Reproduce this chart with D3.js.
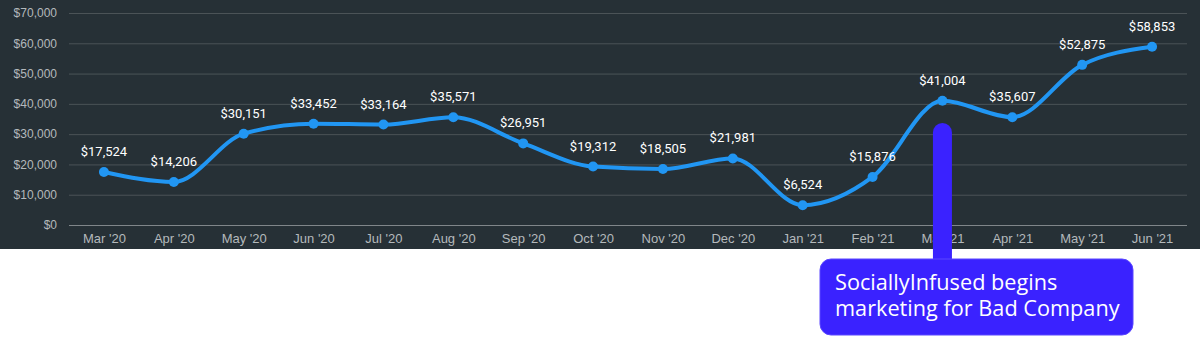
<!DOCTYPE html>
<html>
<head>
<meta charset="utf-8">
<script src="https://cdn.jsdelivr.net/npm/d3@7"></script>
<style>
  body { margin: 0; background: #fff; }
  svg { display: block; font-family: Roboto, sans-serif; }
</style>
</head>
<body>
<svg width="1200" height="362"></svg>
<script>
const months = ["Mar '20", "Apr '20", "May '20", "Jun '20", "Jul '20", "Aug '20", "Sep '20", "Oct '20",
                "Nov '20", "Dec '20", "Jan '21", "Feb '21", "Mar '21", "Apr '21", "May '21", "Jun '21"];
const revenue = [17524, 14206, 30151, 33452, 33164, 35571, 26951, 19312,
                 18505, 21981, 6524, 15876, 41004, 35607, 52875, 58853];
const yTicks = [0, 10000, 20000, 30000, 40000, 50000, 60000, 70000];
const noteMonth = "Mar '21";
const noteLines = ["SociallyInfused begins", "marketing for Bad Company"];

const svg = d3.select('svg');
const width = +svg.attr('width');

const margin = { top: 13, left: 69, right: 13 };
const plotBottom = 225;

svg.append('rect')
    .attr('width', width)
    .attr('height', 249)
    .attr('fill', '#263036');

const xScale = d3.scalePoint()
    .domain(months)
    .range([margin.left, width - margin.right])
    .padding(0.5);

const yScale = d3.scaleLinear()
    .domain([0, 70000])
    .range([plotBottom, margin.top]);

const money = d => '$' + d3.format(',')(d);

// grid + y labels
const yAxis = d3.axisLeft(yScale)
    .tickValues(yTicks)
    .tickFormat(money)
    .tickSize(-(width - margin.left - margin.right))
    .tickPadding(12);
const yAxisGroup = svg.append('g')
    .attr('transform', `translate(${margin.left},0)`)
    .call(yAxis);
yAxisGroup.select('.domain').remove();
yAxisGroup.selectAll('line').attr('stroke', '#4b5357');
yAxisGroup.selectAll('.tick').filter(d => d === 0).select('line').attr('stroke', '#80868a');
yAxisGroup.selectAll('text')
    .attr('fill', '#b4b9bc')
    .style('font-size', '12px');

// x labels
const xAxis = d3.axisBottom(xScale).tickSize(0).tickPadding(9);
const xAxisGroup = svg.append('g')
    .attr('transform', `translate(0,${plotBottom})`)
    .call(xAxis);
xAxisGroup.select('.domain').remove();
xAxisGroup.selectAll('text')
    .attr('fill', '#b4b9bc')
    .style('font-size', '13px');

const data = months.map((m, i) => ({ month: m, value: revenue[i] }));

const line = d3.line()
    .x(d => xScale(d.month))
    .y(d => yScale(d.value))
    .curve(d3.curveMonotoneX);

svg.append('path')
    .datum(data)
    .attr('d', line)
    .attr('fill', 'none')
    .attr('stroke', '#2196f3')
    .attr('stroke-width', 4);

svg.selectAll('circle.pt').data(data)
    .enter().append('circle')
    .attr('class', 'pt')
    .attr('cx', d => xScale(d.month))
    .attr('cy', d => yScale(d.value))
    .attr('r', 5)
    .attr('fill', '#2196f3');

svg.selectAll('text.val').data(data)
    .enter().append('text')
    .attr('class', 'val')
    .attr('x', d => xScale(d.month))
    .attr('y', d => yScale(d.value) - 16)
    .attr('text-anchor', 'middle')
    .attr('fill', '#ffffff')
    .style('font-size', '13px')
    .text(d => money(d.value));

// annotation
const noteX = xScale(noteMonth);
const noteColor = '#3a22ff';
svg.append('rect')
    .attr('x', noteX - 9.5)
    .attr('y', 123)
    .attr('width', 19)
    .attr('height', 150)
    .attr('rx', 9.5)
    .attr('fill', noteColor);
svg.append('rect')
    .attr('x', 820)
    .attr('y', 259)
    .attr('width', 313)
    .attr('height', 76)
    .attr('rx', 11)
    .attr('fill', noteColor)
    .attr('stroke', '#5a46ff')
    .attr('stroke-width', 1);
svg.selectAll('text.note').data(noteLines)
    .enter().append('text')
    .attr('class', 'note')
    .attr('x', 835)
    .attr('y', (d, i) => 290 + i * 26)
    .attr('fill', '#ffffff')
    .style('font-family', '"Open Sans", sans-serif')
    .style('font-size', '21.7px')
    .text(d => d);
</script>
</body>
</html>
